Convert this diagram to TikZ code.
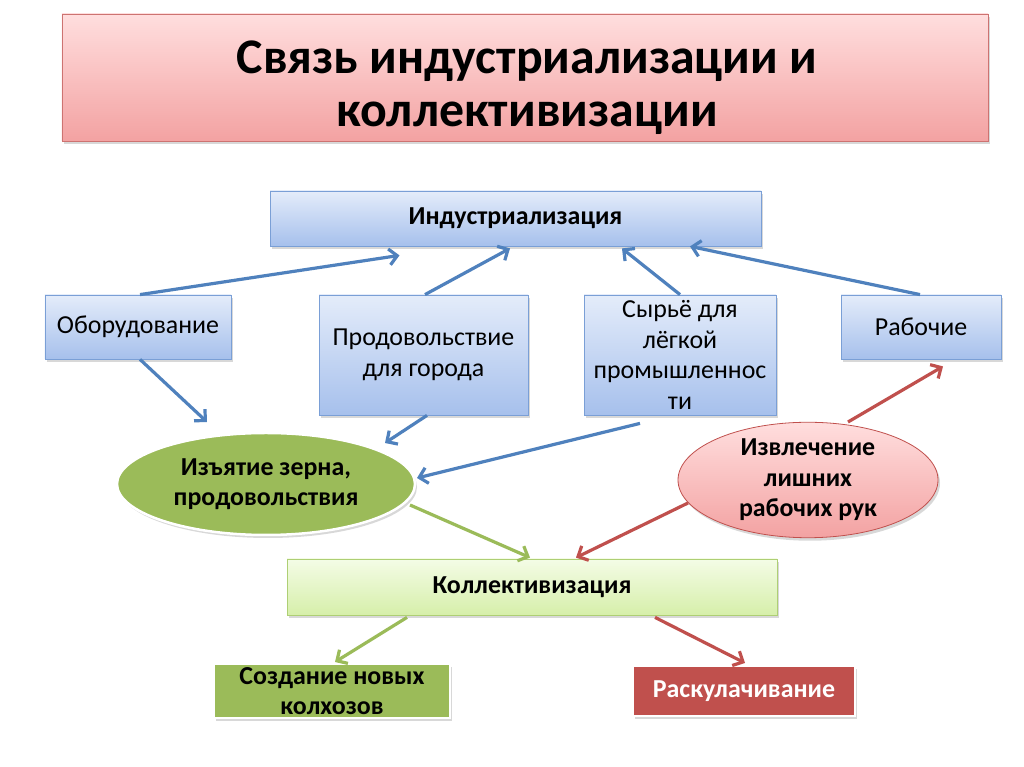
\documentclass[tikz,border=0pt]{standalone}
\usepackage{fontspec}
\setmainfont{Carlito}
\usetikzlibrary{shadows,arrows.meta,shapes.geometric}
\definecolor{blueline}{HTML}{4F81BD}
\definecolor{bluedraw}{HTML}{7A9FD6}
\definecolor{bluetop}{HTML}{E4ECFA}
\definecolor{bluebot}{HTML}{A6C0EC}
\definecolor{redline}{HTML}{C0504D}
\definecolor{pinktop}{HTML}{FFDEDE}
\definecolor{pinkbot}{HTML}{F3A2A2}
\definecolor{greenline}{HTML}{9BBB59}
\definecolor{lgtop}{HTML}{F4FCE6}
\definecolor{lgbot}{HTML}{D6EFAA}
\definecolor{lgdraw}{HTML}{AECF74}
\tikzset{
  shad/.style={drop shadow={opacity=0.3,shadow xshift=2bp,shadow yshift=-3bp}},
  bluebox/.style={draw=bluedraw, line width=0.8bp, top color=bluetop, bottom color=bluebot, shad,
    inner sep=0, align=center, font=\fontsize{26}{31}\selectfont},
  titlebox/.style={draw=redline!80, line width=0.8bp, top color=pinktop, bottom color=pinkbot, shad,
    inner sep=0},
  titletext/.style={inner sep=0, align=center, font=\bfseries\fontsize{50}{53}\selectfont},
  greenell/.style={ellipse, draw=white, line width=2.5bp, fill=greenline, shad, inner sep=0,
    align=center, font=\bfseries\fontsize{26}{30}\selectfont},
  redell/.style={ellipse, draw=redline, line width=0.8bp, top color=pinktop, bottom color=pinkbot, shad, inner sep=0,
    align=center, font=\bfseries\fontsize{26}{30.5}\selectfont},
  lgbox/.style={draw=lgdraw, line width=0.8bp, top color=lgtop, bottom color=lgbot, shad,
    inner sep=0, align=center, font=\bfseries\fontsize{26}{30}\selectfont},
  solidbox/.style={draw=white, line width=2bp, shad, inner sep=0, align=center,
    font=\bfseries\fontsize{26}{30}\selectfont},
  conn/.style={line width=3.2bp, -{Straight Barb[length=8bp,width=16bp]}},
  bconn/.style={conn, draw=blueline},
  gconn/.style={conn, draw=greenline},
  rconn/.style={conn, draw=redline},
}
\begin{document}
\begin{tikzpicture}[x=1bp,y=1bp]
\useasboundingbox (0,0) rectangle (1024,767);
\fill[white] (0,0) rectangle (1024,767);
\node[titlebox, minimum width=926bp, minimum height=127bp] (title) at (525,689.5) {};
\node[titletext] (titlet) at (527,679) {Связь индустриализации и\\коллективизации};
\node[bluebox, font=\bfseries\fontsize{26}{30}\selectfont, minimum width=491bp, minimum height=55bp] (ind) at (515.5,548.5) {Индустриализация};
\node[bluebox, minimum width=186bp, minimum height=64bp] (obor) at (138,440) {Оборудование};
\node[bluebox, minimum width=209bp, minimum height=120bp] (prod) at (423.5,412) {Продовольствие\\для города};
\node[bluebox, minimum width=192bp, minimum height=120bp] (syr) at (680,412) {Сырьё для\\лёгкой\\промышленнос\\ти};
\node[bluebox, minimum width=160bp, minimum height=64bp] (rab) at (921,440) {Рабочие};
\node[greenell, minimum width=298bp, minimum height=102bp] (gell) at (266,283) {Изъятие зерна,\\продовольствия};
\node[redell, minimum width=260bp, minimum height=114bp] (rell) at (808,287) {Извлечение\\лишних\\рабочих рук};
\node[lgbox, minimum width=490bp, minimum height=56bp] (koll) at (532,180) {Коллективизация};
\node[solidbox, fill=greenline, minimum width=236bp, minimum height=54bp] (sozd) at (332,76) {Создание новых\\колхозов};
\node[solidbox, fill=redline, text=white, minimum width=222bp, minimum height=50bp] (rask) at (744,76) {Раскулачивание};

\draw[bconn] ([xshift=2bp]obor.north) -- ([shift={(-116,-9)}]ind.south);
\draw[bconn] ([xshift=1.5bp]prod.north) -- ([shift={(-5.5,-2)}]ind.south);
\draw[bconn] (syr.north) -- ([shift={(106.5,-2)}]ind.south);
\draw[bconn] ([xshift=-1bp]rab.north) -- ([shift={(174.5,0)}]ind.south);
\draw[bconn] ([xshift=2bp]obor.south) -- ([shift={(-59,62)}]gell.center);
\draw[bconn] ([xshift=3.5bp]prod.south) -- ([shift={(119,41)}]gell.center);
\draw[bconn] ([shift={(-40,-8)}]syr.south) -- ([shift={(151,6)}]gell.center);
\draw[gconn] ([shift={(144,-21)}]gell.center) -- ([shift={(-2,1)}]koll.north);
\draw[gconn] ([shift={(-125,-2)}]koll.south) -- ([shift={(3,1)}]sozd.north);
\draw[rconn] ([shift={(-120,-23)}]rell.center) -- ([shift={(44,1)}]koll.north);
\draw[rconn] ([shift={(40,58)}]rell.center) -- ([shift={(22,-7)}]rab.south);
\draw[rconn] ([shift={(123,-2)}]koll.south) -- ([shift={(1,2)}]rask.north);
\end{tikzpicture}
\end{document}
